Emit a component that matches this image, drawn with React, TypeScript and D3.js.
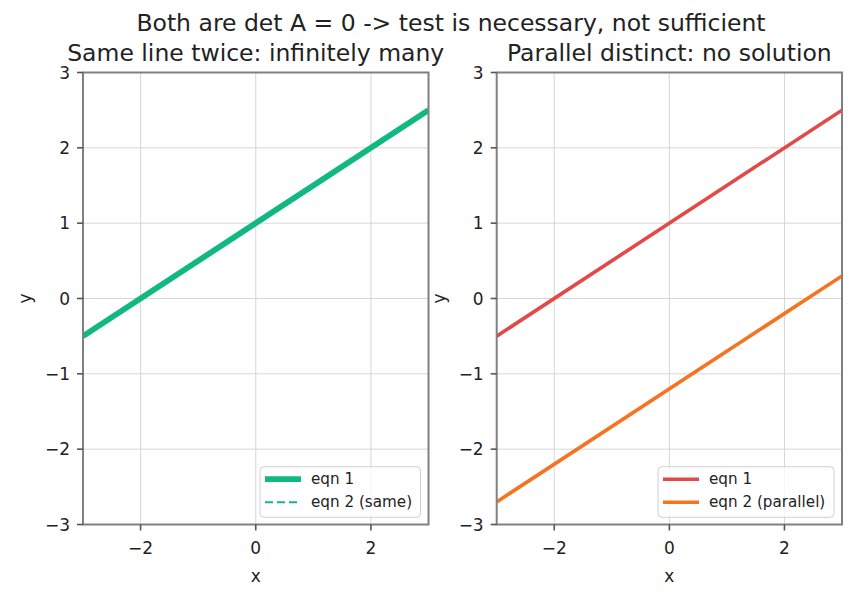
import React from 'react';
import * as d3 from 'd3';

// two systems of equations, both with det A = 0
const xDomain = [-3, 3];
const yDomain = [-3, 3];
const xTicks = [-2, 0, 2];
const yTicks = [-3, -2, -1, 0, 1, 2, 3];
const xs = [-3, 3];

const sameLineA = [-0.5, 2.5];
const sameLineB = [-0.5, 2.5];
const parallelA = [-0.5, 2.5];
const parallelB = [-2.7, 0.3];

const panelTitles = ['Same line twice: infinitely many', 'Parallel distinct: no solution'];
const suptitle = 'Both are det A = 0 -> test is necessary, not sufficient';

const FONT = 'DejaVu Sans, sans-serif';
const W = 856, H = 598;
const top = 72.5, bottom = 524.5;

type Series = { name: string; ys: number[]; color: string; width: number; dash?: string };

const panels: { left: number; right: number; series: Series[] }[] = [
    {
        left: 83, right: 428.5,
        series: [
            { name: 'eqn 1', ys: sameLineA, color: '#10b981', width: 5.8 },
            { name: 'eqn 2 (same)', ys: sameLineB, color: '#10b981', width: 2, dash: '8,4' },
        ],
    },
    {
        left: 496.7, right: 842,
        series: [
            { name: 'eqn 1', ys: parallelA, color: '#e34948', width: 3.6 },
            { name: 'eqn 2 (parallel)', ys: parallelB, color: '#f47421', width: 3.6 },
        ],
    },
];

const fmt = (v: number) => (v < 0 ? '\u2212' + Math.abs(v) : String(v));

const Panel = ({ idx }: { idx: number }) => {
    const p = panels[idx];
    const x = d3.scaleLinear().domain(xDomain).range([p.left, p.right]);
    const y = d3.scaleLinear().domain(yDomain).range([bottom, top]);
    const line = d3.line<number>().x((_, i) => x(xs[i])).y(d => y(d));
    const clipId = `clip${idx}`;

    const legendW = idx === 0 ? 160.5 : 176;
    const lx = p.right - 8 - legendW;
    const ly = 466.7;

    return (
        <g>
            <clipPath id={clipId}>
                <rect x={p.left} y={top} width={p.right - p.left} height={bottom - top} />
            </clipPath>
            {xTicks.map(t => (
                <line key={'gx' + t} x1={x(t)} x2={x(t)} y1={top} y2={bottom} stroke="#d6d6d6" strokeWidth={1} />
            ))}
            {yTicks.map(t => (
                <line key={'gy' + t} x1={p.left} x2={p.right} y1={y(t)} y2={y(t)} stroke="#d6d6d6" strokeWidth={1} />
            ))}
            <g clipPath={`url(#${clipId})`}>
                {p.series.map(s => (
                    <path key={s.name} d={line(s.ys) || ''} fill="none" stroke={s.color}
                        strokeWidth={s.width} strokeDasharray={s.dash} />
                ))}
            </g>
            <rect x={p.left} y={top} width={p.right - p.left} height={bottom - top}
                fill="none" stroke="#808080" strokeWidth={2} />
            {xTicks.map(t => (
                <g key={'tx' + t}>
                    <line x1={x(t)} x2={x(t)} y1={bottom} y2={bottom + 6} stroke="#555" strokeWidth={1.6} />
                    <text x={x(t)} y={554} textAnchor="middle" fontSize={17} fill="#222">{fmt(t)}</text>
                </g>
            ))}
            {yTicks.map(t => (
                <g key={'ty' + t}>
                    <line x1={p.left - 6} x2={p.left} y1={y(t)} y2={y(t)} stroke="#555" strokeWidth={1.6} />
                    <text x={p.left - 13} y={y(t) + 6} textAnchor="end" fontSize={17} fill="#222">{fmt(t)}</text>
                </g>
            ))}
            <text x={(p.left + p.right) / 2} y={582} textAnchor="middle" fontSize={17} fill="#222">x</text>
            <text transform={`translate(${p.left - 52},${(top + bottom) / 2}) rotate(-90)`} textAnchor="middle"
                fontSize={17} fill="#222">y</text>
            <text x={(p.left + p.right) / 2} y={61} textAnchor="middle" fontSize={23.5} fill="#222">{panelTitles[idx]}</text>

            <rect x={lx} y={ly} width={legendW} height={50.6} rx={4} fill="#fff" fillOpacity={0.8}
                stroke="#d0d0d0" strokeWidth={1} />
            {p.series.map((s, i) => {
                const cy = ly + 12.5 + i * 23;
                return (
                    <g key={'lg' + s.name}>
                        <line x1={lx + 5} x2={lx + 41} y1={cy} y2={cy} stroke={s.color}
                            strokeWidth={s.width} strokeDasharray={s.dash} />
                        <text x={lx + 51} y={cy + 5} fontSize={15.2} fill="#222">{s.name}</text>
                    </g>
                );
            })}
        </g>
    );
};

export default function App() {
    return (
        <svg width={W} height={H} style={{ position: 'absolute', left: 0, top: 0, background: '#fff' }}
            fontFamily={FONT}>
            <rect width={W} height={H} fill="#fff" />
            <text x={451} y={31} textAnchor="middle" fontSize={23.5} fill="#222">{suptitle}</text>
            <Panel idx={0} />
            <Panel idx={1} />
        </svg>
    );
}
